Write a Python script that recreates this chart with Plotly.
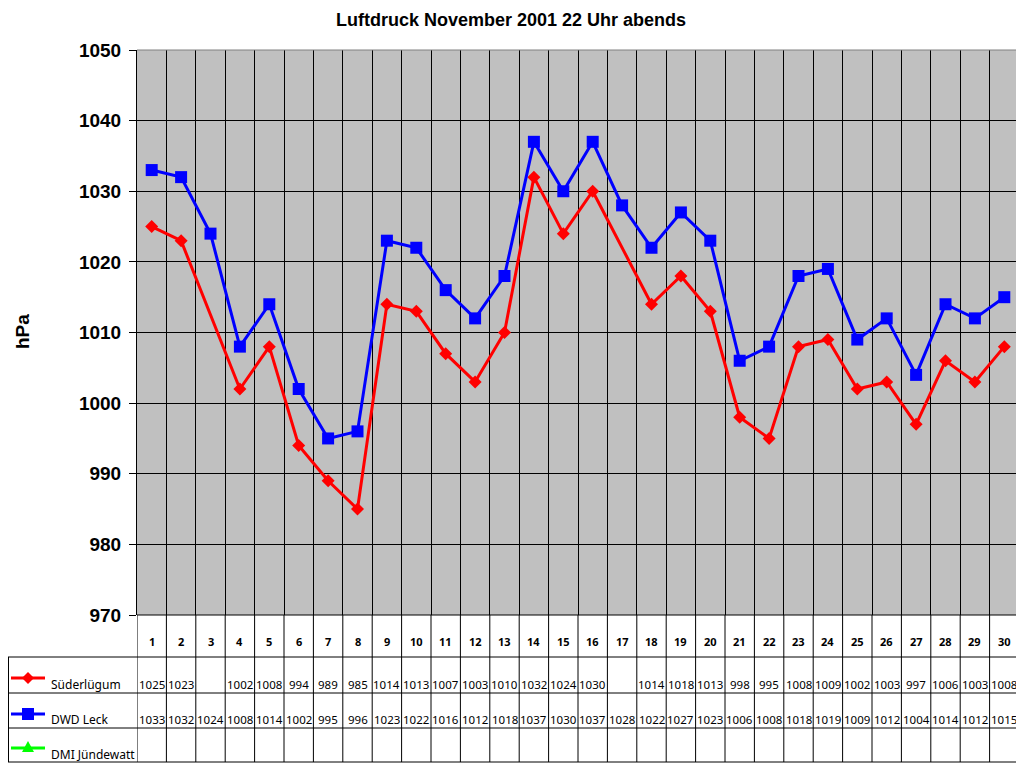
import plotly.graph_objects as go

# Tage und Messwerte (22 Uhr abends, November 2001)
tage = list(range(1, 31))
suederluegum = [1025, 1023, None, 1002, 1008, 994, 989, 985, 1014, 1013,
                1007, 1003, 1010, 1032, 1024, 1030, None, 1014, 1018, 1013,
                998, 995, 1008, 1009, 1002, 1003, 997, 1006, 1003, 1008]
dwd_leck = [1033, 1032, 1024, 1008, 1014, 1002, 995, 996, 1023, 1022,
            1016, 1012, 1018, 1037, 1030, 1037, 1028, 1022, 1027, 1023,
            1006, 1008, 1018, 1019, 1009, 1012, 1004, 1014, 1012, 1015]
dmi_juendewatt = [None] * 30

reihen = [
    ("Süderlügum", suederluegum, "#FF0000", "diamond", 10),
    ("DWD Leck", dwd_leck, "#0000FF", "square", 12),
    ("DMI Jündewatt", dmi_juendewatt, "#00FF00", "triangle-up", 11),
]

W, H = 1024, 768
OFF = 8  # Seitenrand des Browsers


def fx(p):
    return (p - OFF) / W


def fy(p):
    return 1 - (p - OFF) / H


# Plotbereich (Bildschirmpixel)
links, rechts, oben, unten = 137, 1019, 50, 615
# Tabellenzeilen
zeilen_y = [615, 657, 693, 728, 762]
text_y = [684, 719, 754]
legende_y = [678, 714, 748]

fig = go.Figure()

for name, werte, farbe, symbol, groesse in reihen:
    fig.add_trace(go.Scatter(
        x=tage, y=werte, name=name, mode="lines+markers",
        connectgaps=True, showlegend=False,
        line=dict(color=farbe, width=3),
        marker=dict(symbol=symbol, size=groesse, color=farbe),
    ))

shapes = []
annotations = []
schwarz = dict(color="black", width=1)

# senkrechte Tabellenlinien an den Kategoriegrenzen
for k in range(0, 30):
    shapes.append(dict(type="line", xref="x", yref="paper",
                       x0=k + 0.5, x1=k + 0.5,
                       y0=fy(zeilen_y[0]), y1=fy(zeilen_y[-1]), line=schwarz))
# waagerechte Tabellenlinien
shapes.append(dict(type="line", xref="paper", yref="paper",
                   x0=fx(links), x1=fx(rechts),
                   y0=fy(zeilen_y[0]), y1=fy(zeilen_y[0]), line=schwarz))
for zy in zeilen_y[1:]:
    shapes.append(dict(type="line", xref="paper", yref="paper",
                       x0=fx(OFF), x1=fx(1016),
                       y0=fy(zy), y1=fy(zy), line=schwarz))
shapes.append(dict(type="line", xref="paper", yref="paper",
                   x0=fx(OFF) + 0.0005, x1=fx(OFF) + 0.0005,
                   y0=fy(zeilen_y[1]), y1=fy(zeilen_y[-1]), line=schwarz))
# grauer Rahmen oben und rechts
grau = dict(color="#808080", width=1)
shapes.append(dict(type="line", xref="paper", yref="paper",
                   x0=fx(links), x1=fx(rechts), y0=fy(oben), y1=fy(oben),
                   line=grau))
shapes.append(dict(type="line", xref="paper", yref="paper",
                   x0=fx(rechts), x1=fx(rechts), y0=fy(oben), y1=fy(unten),
                   line=grau))

# Legendensymbole in der Tabelle
for i, (name, werte, farbe, symbol, groesse) in enumerate(reihen):
    ly = legende_y[i]
    shapes.append(dict(type="line", xref="paper", yref="paper",
                       x0=fx(11), x1=fx(45), y0=fy(ly), y1=fy(ly),
                       line=dict(color=farbe, width=3)))
    cx, r = 28, 6
    if symbol == "diamond":
        pts = [(cx, ly - r), (cx + r, ly), (cx, ly + r), (cx - r, ly)]
    elif symbol == "square":
        pts = [(cx - r, ly - r), (cx + r, ly - r), (cx + r, ly + r), (cx - r, ly + r)]
    else:
        pts = [(cx, ly - r - 1), (cx + r, ly + r - 2), (cx - r, ly + r - 2)]
    pfad = "M " + " L ".join(f"{fx(a):.5f},{fy(b):.5f}" for a, b in pts) + " Z"
    shapes.append(dict(type="path", xref="paper", yref="paper", path=pfad,
                       fillcolor=farbe, line=dict(color=farbe, width=0)))
    annotations.append(dict(x=fx(49), y=fy(text_y[i]), xref="paper",
                            yref="paper", xanchor="left", yanchor="middle",
                            text=name, showarrow=False,
                            font=dict(family="Noto Sans", size=12,
                                      color="black")))

# Tagesnummern
for t in tage:
    annotations.append(dict(x=t, y=fy(641), xref="x", yref="paper",
                            xanchor="center", yanchor="middle",
                            text=str(t), showarrow=False,
                            font=dict(family="Noto Sans", size=11,
                                      color="black", weight="bold")))
# Werte
for i, (name, werte, *_rest) in enumerate(reihen):
    for t, v in zip(tage, werte):
        if v is None:
            continue
        annotations.append(dict(x=t, y=fy(text_y[i]), xref="x", yref="paper",
                                xanchor="center", yanchor="middle",
                                text=str(v), showarrow=False,
                                font=dict(family="Noto Sans", size=11.5,
                                          color="black")))

# Achsentitel
annotations.append(dict(x=fx(22), y=fy(332), xref="paper", yref="paper",
                        xanchor="center", yanchor="middle",
                        text="<b>hPa</b>", showarrow=False, textangle=-90,
                        font=dict(family="Liberation Sans", size=19,
                                  color="black")))
# Titel
annotations.append(dict(x=fx(511), y=fy(20), xref="paper", yref="paper",
                        xanchor="center", yanchor="middle",
                        text="<b>Luftdruck November 2001 22 Uhr abends</b>",
                        showarrow=False,
                        font=dict(family="Liberation Sans", size=18,
                                  color="black")))

fig.update_layout(
    width=W, height=H,
    margin=dict(l=0, r=0, t=0, b=0),
    paper_bgcolor="white",
    plot_bgcolor="#C0C0C0",
    showlegend=False,
    xaxis=dict(domain=[fx(links), fx(rechts)], range=[0.5, 30.5],
               tickvals=[k + 0.5 for k in range(1, 30)],
               showticklabels=False, ticks="", showgrid=True,
               gridcolor="black", gridwidth=1, zeroline=False,
               showline=False, automargin=False, fixedrange=True),
    yaxis=dict(domain=[fy(unten), fy(oben)], range=[970, 1050], dtick=10,
               showgrid=True, gridcolor="black", gridwidth=1,
               ticks="outside", ticklen=7, tickcolor="black",
               ticklabelstandoff=4,
               showline=True, linecolor="black", linewidth=1,
               zeroline=False, automargin=False,
               tickfont=dict(family="Liberation Sans", size=19, color="black",
                             weight="bold")),
    shapes=shapes,
    annotations=annotations,
)

fig.write_html("out.html")
